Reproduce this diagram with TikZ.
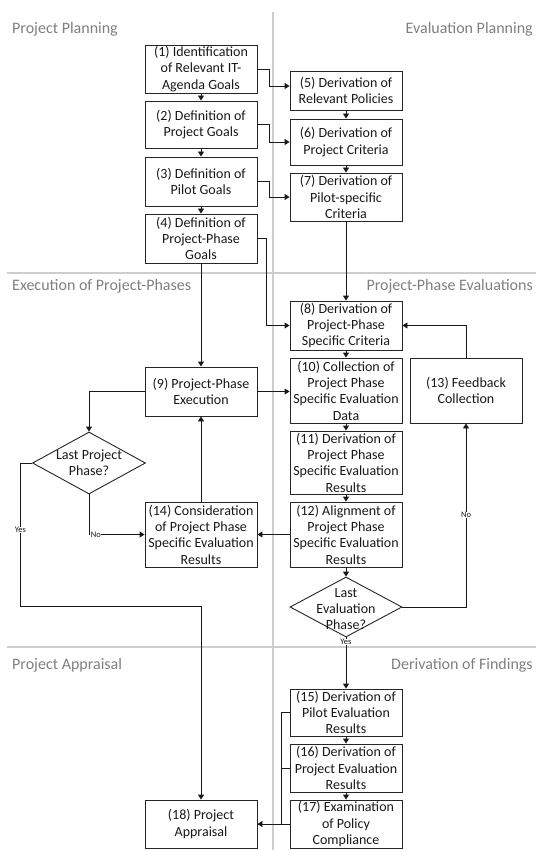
\documentclass[tikz,border=0pt]{standalone}
\usepackage{fontspec}
\setmainfont{Carlito}
\usetikzlibrary{arrows.meta,shapes.geometric,calc}
\definecolor{sectxt}{RGB}{128,128,128}
\definecolor{divline}{RGB}{205,205,205}
\tikzset{
  box/.style={draw=black!85, line width=0.9pt, rectangle, minimum width=112pt, inner sep=1pt,
     align=center, font=\fontsize{14}{16.3}\selectfont, text=black!90},
  dia/.style={draw=black!85, line width=0.9pt, diamond, inner sep=0pt},
  diatext/.style={align=center, font=\fontsize{14}{16.3}\selectfont, text=black!90, inner sep=0pt},
  arr/.style={line width=0.9pt, draw=black!90, -{Triangle[length=5pt,width=6pt]}},
  con/.style={line width=0.9pt, draw=black!90},
  sect/.style={font=\fontsize{16}{19}\selectfont, text=sectxt, inner sep=0pt},
  small/.style={font=\fontsize{8.5}{10}\selectfont, fill=white, inner sep=0.5pt, text=black!90},
  divider/.style={draw=divline, line width=2.5pt}
}
\begin{document}
\begin{tikzpicture}[x=1pt,y=-1pt]
\useasboundingbox (0,0) rectangle (536,850);
\fill[white] (0,0) rectangle (536,850);
% dividers
\draw[divider] (273,12) -- (273,850);
\draw[divider] (7,273) -- (536,273);
\draw[divider] (7,647) -- (536,647);
% section labels
\node[sect, anchor=west] (s1) at (12,29) {Project Planning};
\node[sect, anchor=east] (s2) at (533,29) {Evaluation Planning};
\node[sect, anchor=west] (s3) at (12,286) {Execution of Project-Phases};
\node[sect, anchor=east] (s4) at (533,286) {Project-Phase Evaluations};
\node[sect, anchor=west] (s5) at (12,665) {Project Appraisal};
\node[sect, anchor=east] (s6) at (533,665) {Derivation of Findings};
% left column
\node[box, minimum height=48pt] (b1) at (201,69) {(1) Identification\\of Relevant IT-\\Agenda Goals};
\node[box, minimum height=47pt] (b2) at (201,124.5) {(2) Definition of\\Project Goals};
\node[box, minimum height=49pt] (b3) at (201,181.5) {(3) Definition of\\Pilot Goals};
\node[box, minimum height=49pt] (b4) at (201,238.5) {(4) Definition of\\Project-Phase\\Goals};
% right column
\node[box, minimum height=39pt] (b5) at (346,90.5) {(5) Derivation of\\Relevant Policies};
\node[box, minimum height=46pt] (b6) at (346,142) {(6) Derivation of\\Project Criteria};
\node[box, minimum height=48pt] (b7) at (346,197) {(7) Derivation of\\Pilot-specific\\Criteria};
\node[box, minimum height=49pt] (b8) at (346,325.5) {(8) Derivation of\\Project-Phase\\Specific Criteria};
\node[box, minimum height=65pt] (b10) at (346,390.5) {(10) Collection of\\Project Phase\\Specific Evaluation\\Data};
\node[box, minimum height=63pt] (b11) at (346,462.5) {(11) Derivation of\\Project Phase\\Specific Evaluation\\Results};
\node[box, minimum height=65pt] (b12) at (346,534.5) {(12) Alignment of\\Project Phase\\Specific Evaluation\\Results};
\node[box, minimum height=65pt] (b13) at (466,390.5) {(13) Feedback\\Collection};
\node[box, minimum height=49pt] (b9) at (201,391.5) {(9) Project-Phase\\Execution};
\node[box, minimum height=65pt] (b14) at (201,534.5) {(14) Consideration\\of Project Phase\\Specific Evaluation\\Results};
\node[dia, minimum width=113pt, minimum height=62pt] (d1) at (89,463) {};
\node[diatext] (d1t) at (d1.center) {Last Project\\Phase?};
\node[dia, minimum width=112pt, minimum height=60pt] (d2) at (346,607) {};
\node[diatext] (d2t) at ([yshift=-2pt]d2.center) {Last\\Evaluation\\Phase?};
\node[box, minimum height=47pt] (b15) at (346,712.5) {(15) Derivation of\\Pilot Evaluation\\Results};
\node[box, minimum height=48pt] (b16) at (346,768) {(16) Derivation of\\Project Evaluation\\Results};
\node[box, minimum height=48pt] (b17) at (346,824) {(17) Examination\\of Policy\\Compliance};
\node[box, minimum height=48pt] (b18) at (201,824) {(18) Project\\Appraisal};
% vertical chains
\draw[arr] (b1) -- (b2);
\draw[arr] (b2) -- (b3);
\draw[arr] (b3) -- (b4);
\draw[arr] (b5) -- (b6);
\draw[arr] (b6) -- (b7);
\draw[arr] (b7) -- (b8);
\draw[arr] (b8) -- (b10);
\draw[arr] (b10) -- (b11);
\draw[arr] (b11) -- (b12);
\draw[arr] (b12.south) -- (d2.north);
\draw[arr] (b15) -- (b16);
\draw[arr] (b16) -- (b17);
\draw[arr] (b4) -- (b9);
\draw[arr] (b14) -- (b9);
% planning cross links
\draw[arr] (b1.east) -- ++(12,0) |- ([yshift=4.5pt]b5.west);
\draw[arr] (b2.east) -- ++(12,0) |- (b6.west);
\draw[arr] (b3.east) -- ++(12,0) |- (b7.west);
\draw[arr] (b4.east) -- ++(9,0) |- (b8.west);
% execution
\draw[arr] (b9.east) -- (b10.west |- b9.east);
\draw[arr] (b9.west) -| (d1.north);
\draw[arr] (b12.west) -- (b14.east);
\draw[arr] (d1.south) |- (b14.west) node[small, pos=0.5, anchor=west, xshift=1pt] {No};
\coordinate (y1) at (20.5,606);
\draw[arr] (d1.west) -| (y1) -| (b18.north);
\node[small] (yes1) at (20.5,530) {Yes};
\draw[arr] (d2.east) -| (b13.south) node[small, pos=0.75] {No};
\draw[arr] (b13.north) |- (b8.east);
\draw[arr] (d2.south) -- (b15.north);
\node[small, anchor=north] (yes2) at ([yshift=-1pt]d2.south) {Yes};
% findings to appraisal
\draw[con] (b15.west) -- ++(-8,0) |- (b18.east);
\draw[con] (b16.west) -- ++(-8,0);
\draw[arr] (b17.west) -- (b18.east);
\end{tikzpicture}
\end{document}
